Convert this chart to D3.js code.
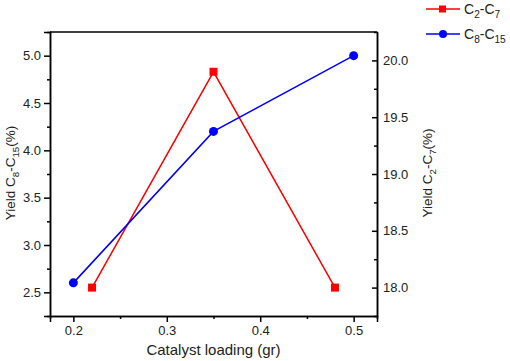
<!DOCTYPE html>
<html>
<head>
<meta charset="utf-8">
<script src="https://cdn.jsdelivr.net/npm/d3@7"></script>
<style>
  body { margin: 0; background: #fff; }
  text { font-family: "Liberation Sans", Arial, sans-serif; }
</style>
</head>
<body>
<div id="chart"></div>
<script>
// data
const loadC2 = [0.22, 0.35, 0.48];
const yieldC2 = [18.0, 19.9, 18.0];
const loadC8 = [0.2, 0.35, 0.5];
const yieldC8 = [2.6, 4.2, 5.0];
const xTicks = [0.2, 0.3, 0.4, 0.5];
const leftTicks = [2.5, 3.0, 3.5, 4.0, 4.5, 5.0];
const rightTicks = [18.0, 18.5, 19.0, 19.5, 20.0];

const W = 510, H = 361;
const margin = { top: 32, right: 133, bottom: 45, left: 50 };
const width = W - margin.left - margin.right;
const height = H - margin.top - margin.bottom;

const svg = d3.select("#chart").append("svg")
    .attr("width", W)
    .attr("height", H);

const g = svg.append("g")
    .attr("transform", `translate(${margin.left}, ${margin.top})`);

const x = d3.scaleLinear().domain([0.175, 0.525]).range([0, width]);
const yL = d3.scaleLinear().domain([2.25, 5.25]).range([height, 0]);
const yR = d3.scaleLinear().domain([17.75, 20.25]).range([height, 0]);

function styleAxis(sel) {
    sel.selectAll("path, line").attr("stroke", "#000").attr("stroke-width", 1.5);
    sel.selectAll("text").attr("font-size", 13).attr("fill", "#222")
        .style("font-family", '"Liberation Sans", Arial, sans-serif');
}

// minor ticks first
g.append("g").attr("transform", `translate(0, ${height})`)
    .call(d3.axisBottom(x).tickValues([0.25, 0.35, 0.45]).tickSize(3).tickFormat(""))
    .call(styleAxis);
g.append("g")
    .call(d3.axisLeft(yL).tickValues([2.75, 3.25, 3.75, 4.25, 4.75]).tickSize(3).tickFormat(""))
    .call(styleAxis);
g.append("g").attr("transform", `translate(${width}, 0)`)
    .call(d3.axisLeft(yR).tickValues([18.25, 18.75, 19.25, 19.75]).tickSize(3).tickFormat(""))
    .call(styleAxis);

// major axes
g.append("g").attr("transform", `translate(0, ${height})`)
    .call(d3.axisBottom(x).tickValues(xTicks).tickSize(6).tickPadding(4).tickFormat(d3.format(".1f")))
    .call(styleAxis);
g.append("g")
    .call(d3.axisLeft(yL).tickValues(leftTicks).tickSize(6).tickPadding(3).tickFormat(d3.format(".1f")))
    .call(styleAxis);
const rAxis = g.append("g").attr("transform", `translate(${width}, 0)`)
    .call(d3.axisRight(yR).tickValues(rightTicks).tickSize(0).tickPadding(6).tickFormat(d3.format(".1f")))
    .call(styleAxis);
// right ticks point inward
rAxis.selectAll(".tick").append("line")
    .attr("x1", -5).attr("x2", 0)
    .attr("stroke", "#000").attr("stroke-width", 1.5);

// top frame line
g.append("line")
    .attr("x1", 0).attr("x2", width).attr("y1", 0).attr("y2", 0)
    .attr("stroke", "#000").attr("stroke-width", 1.5);

// series
const red = "#ff0000", blue = "#0000ff";
const c2 = loadC2.map((d, i) => [d, yieldC2[i]]);
const c8 = loadC8.map((d, i) => [d, yieldC8[i]]);

g.append("path").datum(c2)
    .attr("fill", "none").attr("stroke", red).attr("stroke-width", 1.5)
    .attr("d", d3.line().x(d => x(d[0])).y(d => yR(d[1])));
g.selectAll(".sq").data(c2).enter().append("rect")
    .attr("x", d => x(d[0]) - 4).attr("y", d => yR(d[1]) - 4)
    .attr("width", 8).attr("height", 8).attr("fill", red);

g.append("path").datum(c8)
    .attr("fill", "none").attr("stroke", blue).attr("stroke-width", 1.5)
    .attr("d", d3.line().x(d => x(d[0])).y(d => yL(d[1])));
g.selectAll(".dot").data(c8).enter().append("circle")
    .attr("cx", d => x(d[0])).attr("cy", d => yL(d[1]))
    .attr("r", 4.5).attr("fill", blue);

// text with subscripts
function subText(sel, parts, size) {
    parts.forEach(p => {
        if (p.sub) {
            sel.append("tspan").attr("font-size", size * 0.72).attr("dy", size * 0.3).text(p.t);
        } else {
            sel.append("tspan").attr("font-size", size).attr("dy", p.up ? -size * 0.3 : 0).text(p.t);
        }
    });
}

// axis titles
svg.append("text")
    .attr("x", margin.left + width / 2).attr("y", 355)
    .attr("text-anchor", "middle").attr("font-size", 15).attr("fill", "#222")
    .text("Catalyst loading (gr)");

const lt = svg.append("text")
    .attr("transform", "translate(15, 173) rotate(-90)")
    .attr("text-anchor", "middle").attr("fill", "#222");
subText(lt, [{ t: "Yield C" }, { t: "8", sub: true }, { t: "-C", up: true }, { t: "15", sub: true }, { t: "(%)", up: true }], 13.5);

const rt = svg.append("text")
    .attr("transform", "translate(432, 173) rotate(-90)")
    .attr("text-anchor", "middle").attr("fill", "#222");
subText(rt, [{ t: "Yield C" }, { t: "2", sub: true }, { t: "-C", up: true }, { t: "7", sub: true }, { t: "(%)", up: true }], 13.5);

// legend
const legend = [
    { color: red, shape: "square", parts: [{ t: "C" }, { t: "2", sub: true }, { t: "-C", up: true }, { t: "7", sub: true }] },
    { color: blue, shape: "circle", parts: [{ t: "C" }, { t: "8", sub: true }, { t: "-C", up: true }, { t: "15", sub: true }] }
];
legend.forEach((l, i) => {
    const ly = 9 + i * 25;
    svg.append("line").attr("x1", 426).attr("x2", 460).attr("y1", ly).attr("y2", ly)
        .attr("stroke", l.color).attr("stroke-width", 1.5);
    if (l.shape === "square") {
        svg.append("rect").attr("x", 439).attr("y", ly - 3.5).attr("width", 7).attr("height", 7).attr("fill", l.color);
    } else {
        svg.append("circle").attr("cx", 443).attr("cy", ly).attr("r", 4).attr("fill", l.color);
    }
    const t = svg.append("text").attr("x", 464).attr("y", ly + 5).attr("fill", "#222");
    subText(t, l.parts, 14);
});
</script>
</body>
</html>
